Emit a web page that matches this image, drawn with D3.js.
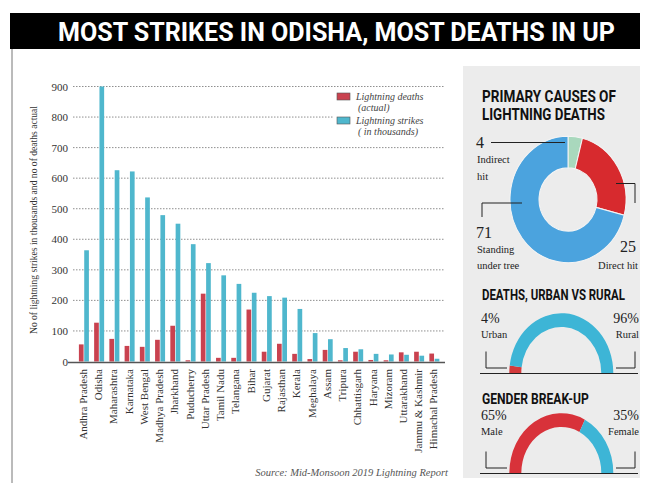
<!DOCTYPE html>
<html>
<head>
<meta charset="utf-8">
<script src="https://cdn.jsdelivr.net/npm/d3@7/dist/d3.min.js"></script>
<style>
  html, body { margin: 0; padding: 0; background: #fff; }
  svg { display: block; }
</style>
</head>
<body>
<svg id="chart" width="650" height="483"></svg>
<script>
// ---- Data ----
const states = ["Andhra Pradesh","Odisha","Maharashtra","Karnataka","West Bengal","Madhya Pradesh",
  "Jharkhand","Puducherry","Uttar Pradesh","Tamil Nadu","Telangana","Bihar","Gujarat","Rajasthan",
  "Kerala","Meghalaya","Assam","Tripura","Chhattisgarh","Haryana","Mizoram","Uttarakhand",
  "Jammu & Kashmir","Himachal Pradesh"];
const deaths = [56,127,74,51,48,71,117,4,222,12,12,170,32,58,25,8,38,4,32,5,4,30,32,26];
const strikes = [364,900,626,622,537,479,451,384,322,282,254,225,214,209,172,93,73,44,40,25,23,22,19,9];
const yTicks = [0,100,200,300,400,500,600,700,800,900];

const causeLabels = ["Indirect hit","Direct hit","Standing under tree"];
const causeValues = [4,25,71];
const areaLabels = ["Urban","Rural"];
const areaValues = [4,96];
const genderLabels = ["Male","Female"];
const genderValues = [65,35];

// ---- Styles ----
const RED = "#c9424f", BLUE = "#4fb7cd";
const SERIF = "'Liberation Serif','DejaVu Serif',serif";
const COND = "'Roboto','Liberation Sans',sans-serif";

const svg = d3.select("#chart");

// Condensed bold heading: draws at natural width, then squeezes horizontally to the target width
function condensed(parent, txt, x, yy, width, size, fill) {
  const t = parent.append("text")
    .attr("font-family", COND).attr("font-weight", 700).attr("font-size", size)
    .attr("fill", fill).text(txt);
  const natural = t.node().getComputedTextLength();
  const sx = width / natural;
  t.attr("transform", `translate(${x},${yy}) scale(${sx},1)`);
  return t;
}

// Header bar
svg.append("rect").attr("x", 10).attr("y", 13).attr("width", 630).attr("height", 36).attr("fill", "#000");
condensed(svg, "MOST STRIKES IN ODISHA, MOST DEATHS IN UP", 58, 40.5, 557, 26, "#fff");

// Left frame rule
svg.append("line").attr("x1", 12).attr("x2", 12).attr("y1", 49).attr("y2", 483)
  .attr("stroke", "#777").attr("stroke-width", 1);

// ---- Bar chart ----
const y = d3.scaleLinear().domain([0, 900]).range([361.5, 86.5]);
const x0 = d3.scaleBand().domain(states).range([75.9, 441.6]).paddingInner(0);
const x1 = d3.scaleBand().domain(["deaths","strikes"]).range([3, 13]).paddingInner(0.12);

// dotted gridlines
const grid = svg.append("g");
grid.selectAll("line").data(yTicks.filter(d => d > 0)).join("line")
  .attr("x1", 73).attr("x2", 445)
  .attr("y1", d => y(d)).attr("y2", d => y(d))
  .attr("stroke", "#8f8f8f").attr("stroke-width", 1).attr("stroke-dasharray", "1.5,1.5");

// y tick labels via axis
const yAxis = svg.append("g").attr("transform", "translate(70,0)")
  .call(d3.axisLeft(y).tickValues(yTicks).tickSize(0).tickPadding(2));
yAxis.select(".domain").remove();
yAxis.selectAll("text").attr("font-family", SERIF).attr("font-size", 11).attr("fill", "#333");

// axis title
svg.append("text")
  .attr("transform", "translate(37,220) rotate(-90)")
  .attr("text-anchor", "middle")
  .attr("font-family", SERIF).attr("font-size", 9.6).attr("fill", "#333")
  .text("No of lightning strikes in thousands and no of deaths actual");

// legend (white backing over the gridlines)
const lg = svg.append("g");
lg.append("rect").attr("x", 333).attr("y", 90).attr("width", 113).attr("height", 50).attr("fill", "#fff");
lg.append("rect").attr("x", 337).attr("y", 93).attr("width", 13).attr("height", 7)
  .attr("fill", RED).attr("stroke", "#555").attr("stroke-width", 0.6);
lg.append("rect").attr("x", 337).attr("y", 117).attr("width", 13).attr("height", 7)
  .attr("fill", BLUE).attr("stroke", "#555").attr("stroke-width", 0.6);
const lgText = [["Lightning deaths", 100], ["(actual)", 111], ["Lightning strikes", 124], ["( in thousands)", 135]];
lg.selectAll("text.l").data(lgText).join("text").attr("class", "l")
  .attr("x", (d, i) => i % 2 ? 358 : 356).attr("y", d => d[1])
  .attr("font-family", SERIF).attr("font-style", "italic").attr("font-size", 10).attr("fill", "#444")
  .text(d => d[0]);

// bars
const groups = svg.append("g").selectAll("g").data(states).join("g")
  .attr("transform", d => `translate(${x0(d)},0)`);
groups.append("rect")
  .attr("x", x1("deaths")).attr("width", x1.bandwidth())
  .attr("y", (d, i) => y(deaths[i])).attr("height", (d, i) => y(0) - y(deaths[i]))
  .attr("fill", RED);
groups.append("rect")
  .attr("x", x1("strikes")).attr("width", x1.bandwidth())
  .attr("y", (d, i) => y(strikes[i])).attr("height", (d, i) => y(0) - y(strikes[i]))
  .attr("fill", BLUE);

// baseline
svg.append("line").attr("x1", 68).attr("x2", 445).attr("y1", y(0) + 1).attr("y2", y(0) + 1)
  .attr("stroke", "#555").attr("stroke-width", 1.6);

// category labels
svg.append("g").selectAll("text").data(states).join("text")
  .attr("transform", d => `translate(${x0(d) + x0.bandwidth() / 2 + 3.5},369) rotate(-90)`)
  .attr("text-anchor", "end")
  .attr("font-family", SERIF).attr("font-size", 11).attr("fill", "#333")
  .text(d => d);

// source
svg.append("text").attr("x", 448).attr("y", 476).attr("text-anchor", "end")
  .attr("font-family", SERIF).attr("font-style", "italic").attr("font-size", 10.5).attr("fill", "#555")
  .text("Source: Mid-Monsoon 2019 Lightning Report");

// ---- Side panel ----
const panel = svg.append("g");
panel.append("rect").attr("x", 463).attr("y", 66).attr("width", 177).attr("height", 412).attr("fill", "#ececec");

function heading(txt, yy, len, size) {
  condensed(panel, txt, 482, yy, len, size, "#111");
}
function label(txt, xx, yy, size, anchor) {
  panel.append("text").attr("x", xx).attr("y", yy).attr("text-anchor", anchor || "start")
    .attr("font-family", SERIF).attr("font-size", size).attr("fill", "#222").text(txt);
}
function path(pts) {
  panel.append("path").attr("d", d3.line()(pts)).attr("fill", "none")
    .attr("stroke", "#222").attr("stroke-width", 1);
}

// Primary causes donut
heading("PRIMARY CAUSES OF", 102, 134, 16.5);
heading("LIGHTNING DEATHS", 120, 123, 16.5);
const causeColors = ["#a9d8bd", "#d72a2e", "#4ba3de"];
const pie = d3.pie().sort(null).value(d => d);
const donutArc = d3.arc().innerRadius(29).outerRadius(58);
panel.append("g").attr("transform", "translate(568,199.5) scale(1,1.09)")
  .selectAll("path").data(pie(causeValues)).join("path")
  .attr("d", donutArc).attr("fill", (d, i) => causeColors[i])
  .attr("stroke", "#f4f4f4").attr("stroke-width", 1);

label(causeValues[0], 476, 148, 16);
label("Indirect", 477, 163, 10.5);
label("hit", 477, 180, 10.5);
path([[491, 142.5], [565, 142.5]]);

label(causeValues[2], 476, 238, 16);
label("Standing", 477, 253, 10.5);
label("under tree", 477, 269, 10.5);
path([[482, 217], [482, 203], [522, 203]]);

label(causeValues[1], 636, 252, 16, "end");
label("Direct hit", 638, 269, 10.5, "end");
path([[616, 183.5], [635, 183.5], [635, 203]]);

// Half-donut helper
function halfDonut(values, colors, cy) {
  const half = d3.pie().sort(null).value(d => d)
    .startAngle(-Math.PI / 2).endAngle(Math.PI / 2)(values);
  const a = d3.arc().innerRadius(40).outerRadius(52);
  panel.append("g").attr("transform", `translate(561.3,${cy}) scale(1,1.15)`)
    .selectAll("path").data(half).join("path")
    .attr("d", a).attr("fill", (d, i) => colors[i]);
  panel.append("line").attr("x1", 480).attr("x2", 638).attr("y1", cy + 0.5).attr("y2", cy + 0.5)
    .attr("stroke", "#222").attr("stroke-width", 1.2);
  path([[486, cy - 21.5], [486, cy - 5], [507, cy - 5]]);
  path([[635, cy - 21.5], [635, cy - 5], [616, cy - 5]]);
}

heading("DEATHS, URBAN VS RURAL", 300, 143, 14.5);
label(areaValues[0] + "%", 481, 323, 14);
label(areaLabels[0], 481, 338, 10.5);
label(areaValues[1] + "%", 639, 323, 14, "end");
label(areaLabels[1], 639, 338, 10.5, "end");
halfDonut(areaValues, ["#d33a3c", "#3db5d6"], 373);

heading("GENDER BREAK-UP", 404, 107, 14.5);
label(genderValues[0] + "%", 481, 420, 14);
label(genderLabels[0], 481, 435, 10.5);
label(genderValues[1] + "%", 639, 420, 14, "end");
label(genderLabels[1], 639, 435, 10.5, "end");
halfDonut(genderValues, ["#d8323a", "#3db5d6"], 473);
</script>
</body>
</html>
